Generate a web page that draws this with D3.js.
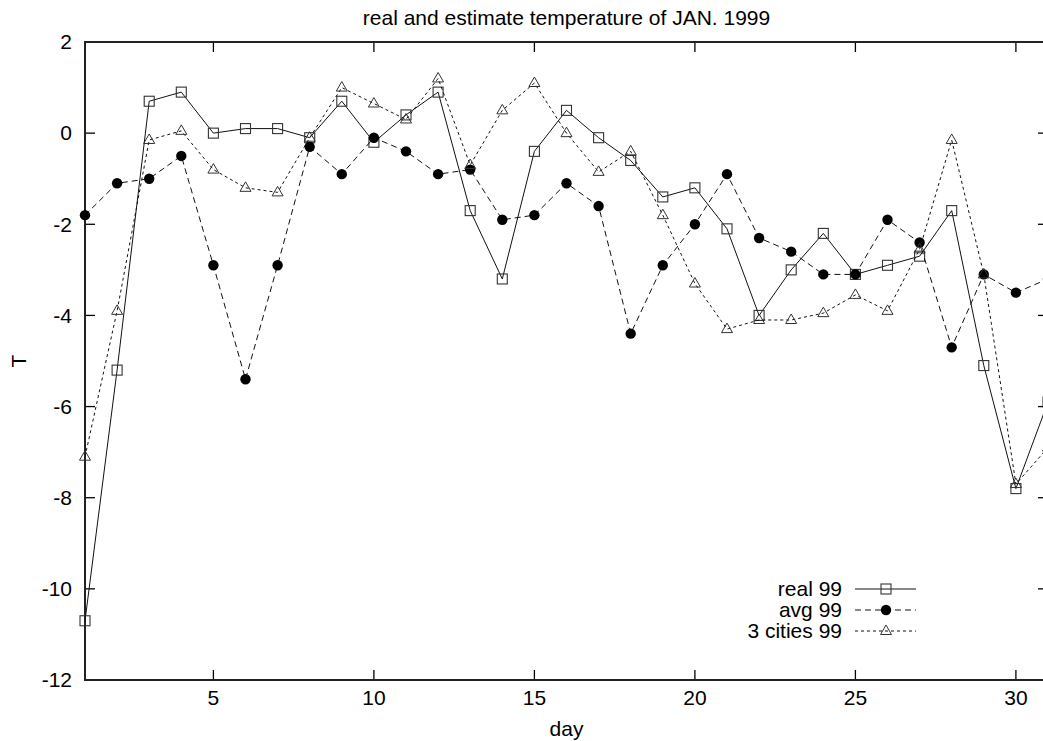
<!DOCTYPE html>
<html>
<head>
<meta charset="utf-8">
<script src="https://cdn.jsdelivr.net/npm/d3@7/dist/d3.min.js"></script>
<style>
  html, body { margin: 0; padding: 0; background: #fff; }
  svg { display: block; }
  text { font-family: "Liberation Sans", Arial, Helvetica, sans-serif; fill: #000; }
</style>
</head>
<body>
<svg id="chart" width="1043" height="741"></svg>
<script>
const days = d3.range(1, 32);
const real99 = [-10.7, -5.2, 0.7, 0.9, 0.0, 0.1, 0.1, -0.1, 0.7, -0.2, 0.4, 0.9, -1.7, -3.2, -0.4, 0.5, -0.1, -0.6, -1.4, -1.2, -2.1, -4.0, -3.0, -2.2, -3.1, -2.9, -2.7, -1.7, -5.1, -7.8, -5.9];
const avg99 = [-1.8, -1.1, -1.0, -0.5, -2.9, -5.4, -2.9, -0.3, -0.9, -0.1, -0.4, -0.9, -0.8, -1.9, -1.8, -1.1, -1.6, -4.4, -2.9, -2.0, -0.9, -2.3, -2.6, -3.1, -3.1, -1.9, -2.4, -4.7, -3.1, -3.5, -3.2];
const cities99 = [-7.1, -3.9, -0.15, 0.05, -0.8, -1.2, -1.3, -0.1, 1.0, 0.65, 0.3, 1.2, -0.7, 0.5, 1.1, 0.0, -0.85, -0.4, -1.8, -3.3, -4.3, -4.1, -4.1, -3.95, -3.55, -3.9, -2.55, -0.15, -3.1, -7.7, -6.9];
const seriesNames = ["real 99", "avg 99", "3 cities 99"];
const xTicks = [5, 10, 15, 20, 25, 30];
const yTicks = [-12, -10, -8, -6, -4, -2, 0, 2];
const titleText = "real and estimate temperature of JAN. 1999";
const xLabel = "day";
const yLabel = "T";

const svg = d3.select("#chart");
const pLeft = 85, pRight = 1048, pTop = 42, pBottom = 680;
const x = d3.scaleLinear().domain([1, 31]).range([pLeft, pRight]);
const y = d3.scaleLinear().domain([-12, 2]).range([pBottom, pTop]);

const fontSize = 21;

// clip
svg.append("defs").append("clipPath").attr("id", "plotclip")
  .append("rect").attr("x", pLeft).attr("y", pTop).attr("width", pRight - pLeft).attr("height", pBottom - pTop);

// title
svg.append("text").attr("x", (pLeft + pRight) / 2).attr("y", 25).attr("text-anchor", "middle")
  .style("font-size", fontSize + "px").text(titleText);

// axis labels
svg.append("text").attr("x", (pLeft + pRight) / 2).attr("y", 736).attr("text-anchor", "middle")
  .style("font-size", fontSize + "px").text(xLabel);
svg.append("text").attr("transform", "translate(26,361) rotate(-90)").attr("text-anchor", "middle")
  .style("font-size", fontSize + "px").text(yLabel);

// ticks (inward, mirrored) and labels
const tickLen = 10;
const tg = svg.append("g").attr("stroke", "#000").attr("stroke-width", 1.3);
yTicks.forEach(v => {
  const py = y(v);
  tg.append("line").attr("x1", pLeft).attr("x2", pLeft + tickLen).attr("y1", py).attr("y2", py);
  tg.append("line").attr("x1", pRight).attr("x2", pRight - tickLen).attr("y1", py).attr("y2", py);
  svg.append("text").attr("x", 72).attr("y", py).attr("dy", "0.35em").attr("text-anchor", "end")
    .style("font-size", fontSize + "px").text(v);
});
xTicks.forEach(v => {
  const px = x(v);
  tg.append("line").attr("x1", px).attr("x2", px).attr("y1", pBottom).attr("y2", pBottom - tickLen);
  tg.append("line").attr("x1", px).attr("x2", px).attr("y1", pTop).attr("y2", pTop + tickLen);
  svg.append("text").attr("x", px).attr("y", 705).attr("text-anchor", "middle")
    .style("font-size", fontSize + "px").text(v);
});

// frame
svg.append("rect").attr("x", pLeft).attr("y", pTop).attr("width", pRight - pLeft).attr("height", pBottom - pTop)
  .attr("fill", "none").attr("stroke", "#222").attr("stroke-width", 2);

const series = [
  { name: seriesNames[0], values: real99, dash: null, marker: "square" },
  { name: seriesNames[1], values: avg99, dash: "6,4", marker: "circle" },
  { name: seriesNames[2], values: cities99, dash: "3,3", marker: "triangle" }
];

function drawMarker(g, type, cx, cy) {
  if (type === "square") {
    g.append("rect").attr("x", cx - 5).attr("y", cy - 5).attr("width", 10).attr("height", 10)
      .attr("fill", "none").attr("stroke", "#333").attr("stroke-width", 1.1);
  } else if (type === "circle") {
    g.append("circle").attr("cx", cx).attr("cy", cy).attr("r", 5.2).attr("fill", "#000");
  } else {
    g.append("path").attr("d", `M${cx},${cy - 6} L${cx + 5.5},${cy + 3.5} L${cx - 5.5},${cy + 3.5} Z`)
      .attr("fill", "none").attr("stroke", "#333").attr("stroke-width", 1);
  }
}

const line = d3.line().x((d, i) => x(days[i])).y(d => y(d));

series.forEach(s => {
  const lg = svg.append("g").attr("clip-path", "url(#plotclip)");
  lg.append("path").attr("d", line(s.values)).attr("fill", "none").attr("stroke", "#111")
    .attr("stroke-width", 1).attr("stroke-dasharray", s.dash);
  const mg = svg.append("g");
  s.values.forEach((v, i) => drawMarker(mg, s.marker, x(days[i]), y(v)));
});

// legend
const legY = [589, 610, 631];
series.forEach((s, i) => {
  const ly = legY[i];
  svg.append("text").attr("x", 842).attr("y", ly).attr("dy", "0.35em").attr("text-anchor", "end")
    .style("font-size", fontSize + "px").text(s.name);
  svg.append("line").attr("x1", 855).attr("x2", 916).attr("y1", ly).attr("y2", ly)
    .attr("stroke", "#111").attr("stroke-width", 1).attr("stroke-dasharray", s.dash);
  drawMarker(svg, s.marker, 886, ly);
});
</script>
</body>
</html>
